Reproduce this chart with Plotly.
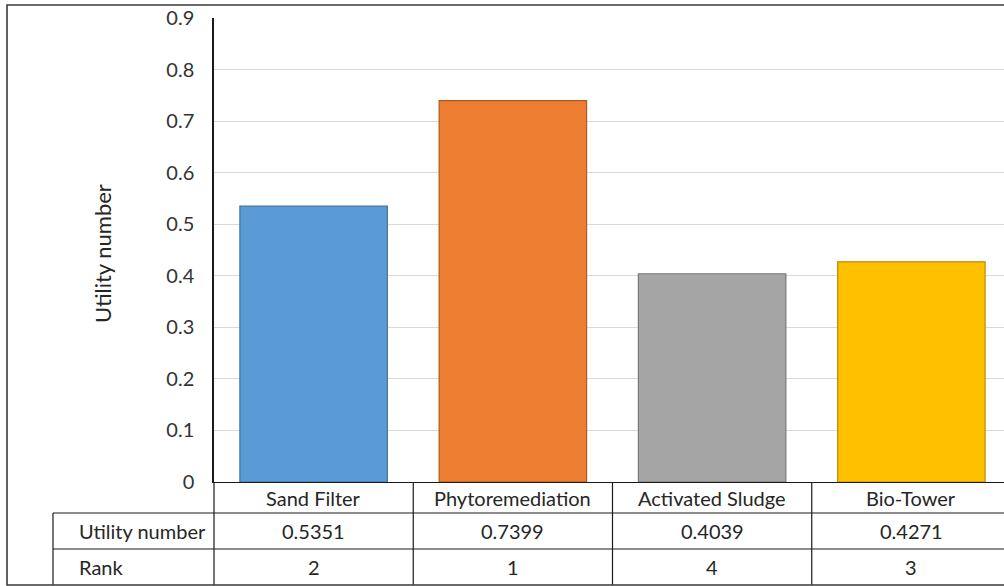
import plotly.graph_objects as go

# ---- data ----
categories = ["Sand Filter", "Phytoremediation", "Activated Sludge", "Bio-Tower"]
utility = [0.5351, 0.7399, 0.4039, 0.4271]
rank = [2, 1, 4, 3]
row_headers = ["Utility number", "Rank"]
y_ticks = [0, 0.1, 0.2, 0.3, 0.4, 0.5, 0.6, 0.7, 0.8, 0.9]

fill_colors = ["#5B9BD5", "#ED7D31", "#A5A5A5", "#FFC000"]
edge_colors = ["#41719C", "#AE5A21", "#787878", "#BC8C00"]

# ---- layout geometry (pixels) ----
W, H = 1004, 586
L, R, T, B = 214, 0, 18, 104
PW, PH = W - L - R, H - T - B
COL_W = 199.25                      # width of one category band
X_MIN = -0.5
X_MAX = X_MIN + PW / COL_W

FONT = "Lato"
FS = 20
TXT = "#262626"
LINE = "#1a1a1a"


def px(x):
    return (x - L) / PW


def py(y):
    return (H - B - y) / PH


def band_edge_px(i):
    # pixel x of the left edge of category band i
    return L + (i - 0.5 - X_MIN) * COL_W


fig = go.Figure()
fig.add_trace(go.Bar(
    x=list(range(len(categories))),
    y=utility,
    width=0.74,
    marker=dict(color=fill_colors, line=dict(color=edge_colors, width=1.2)),
    hoverinfo="skip",
))

# data table under the chart
row_top = 482
row_lines = [513, 549, 585]
table_left = 53
shapes = []
# horizontal rules of the two value rows
for y in row_lines[:2]:
    shapes.append(dict(type="line", xref="paper", yref="paper",
                       x0=px(table_left), x1=px(W + 10), y0=py(y), y1=py(y),
                       line=dict(color=LINE, width=1.2)))
# left edge of the row-header column
shapes.append(dict(type="line", xref="paper", yref="paper",
                   x0=px(table_left), x1=px(table_left), y0=py(row_lines[0]), y1=py(row_lines[2]),
                   line=dict(color=LINE, width=1.2)))
# column separators
for i in range(len(categories) + 1):
    xe = band_edge_px(i)
    if xe > W + 5:
        continue
    shapes.append(dict(type="line", xref="paper", yref="paper",
                       x0=px(xe), x1=px(xe), y0=py(row_top), y1=py(row_lines[2]),
                       line=dict(color=LINE, width=1.2)))
# outer frame
shapes.append(dict(type="rect", xref="paper", yref="paper",
                   x0=px(7), x1=px(W + 20), y0=py(585), y1=py(5),
                   line=dict(color="#3a3a3a", width=1.6)))

annotations = []
row_centers = [497.5, 531, 567]
for i, cat in enumerate(categories):
    cx = band_edge_px(i) + COL_W / 2
    cells = [cat, f"{utility[i]:.4f}", str(rank[i])]
    for r, txt in enumerate(cells):
        annotations.append(dict(x=px(cx), y=py(row_centers[r]), xref="paper", yref="paper",
                                text=txt, showarrow=False, xanchor="center", yanchor="middle",
                                font=dict(family=FONT, size=FS, color=TXT)))
for j, hdr in enumerate(row_headers):
    annotations.append(dict(x=px(77), y=py(row_centers[j + 1]), xref="paper", yref="paper",
                            text=hdr, showarrow=False, xanchor="left", yanchor="middle",
                            font=dict(family=FONT, size=FS, color=TXT)))
# value-axis title
annotations.append(dict(x=px(103), y=py(254), xref="paper", yref="paper",
                        text="Utility number", textangle=-90, showarrow=False,
                        xanchor="center", yanchor="middle",
                        font=dict(family=FONT, size=22, color=TXT)))

fig.update_layout(
    width=W, height=H,
    margin=dict(l=L, r=R, t=T, b=B, pad=0),
    paper_bgcolor="white", plot_bgcolor="white",
    showlegend=False,
    xaxis=dict(range=[X_MIN, X_MAX], showticklabels=False, ticks="",
               showgrid=False, zeroline=False, showline=True,
               linecolor=LINE, linewidth=1.2),
    yaxis=dict(range=[0, 0.9], tickvals=y_ticks, ticktext=[f"{v:g}" for v in y_ticks],
               showgrid=True, gridcolor="#d9d9d9", gridwidth=1.2,
               zeroline=False, showline=True, linecolor=LINE, linewidth=1.5,
               ticks="", ticklabelstandoff=14,
               tickfont=dict(family=FONT, size=FS, color="#333333")),
    shapes=shapes,
    annotations=annotations,
)

fig.write_html("out.html")
